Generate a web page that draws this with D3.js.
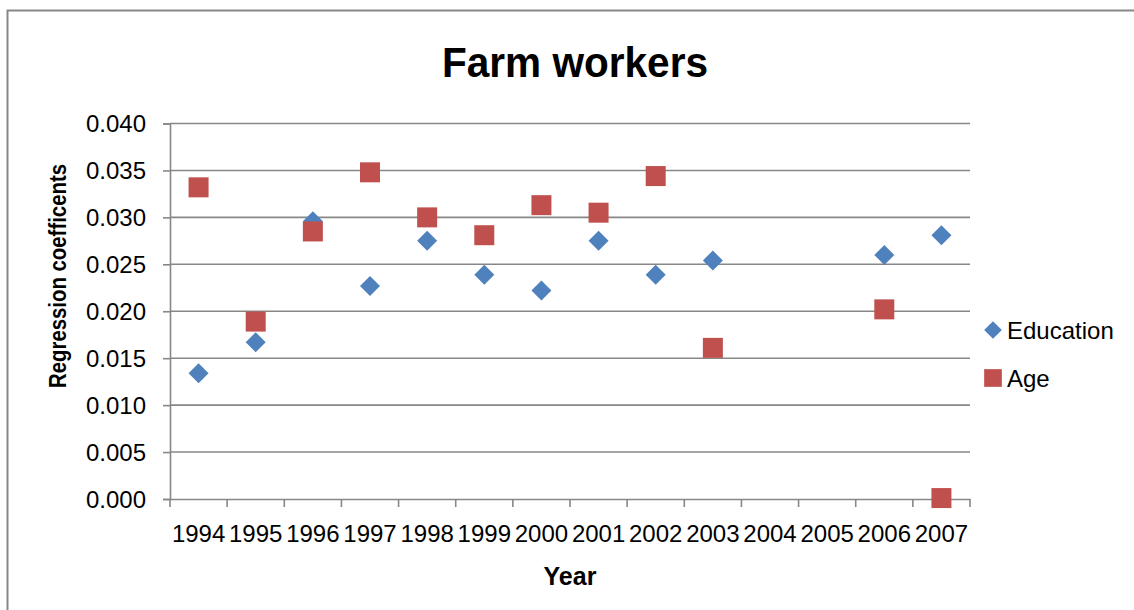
<!DOCTYPE html>
<html>
<head>
<meta charset="utf-8">
<script src="https://cdn.jsdelivr.net/npm/d3@7"></script>
<style>
  html, body { margin: 0; padding: 0; background: #fff; }
  svg { display: block; }
  text { font-family: "Liberation Sans", Arial, sans-serif; fill: #000; }
</style>
</head>
<body>
<div id="chart"></div>
<script>
// Categories along the x axis (years; 2004 and 2005 have no estimates)
const years = ["1994","1995","1996","1997","1998","1999","2000","2001","2002","2003","2004","2005","2006","2007"];

// Regression coefficients per year (null = no estimate)
const education = [0.0134, 0.0167, 0.0296, 0.0227, 0.0275, 0.0239, 0.0222, 0.0275, 0.0239, 0.0254, null, null, 0.0260, 0.0281];
const age       = [0.0332, 0.0189, 0.0285, 0.0348, 0.0300, 0.0281, 0.0313, 0.0305, 0.0344, 0.0161, null, null, 0.0202, 0.0001];

// Y axis tick values and labels
const yTicks = [0, 0.005, 0.010, 0.015, 0.020, 0.025, 0.030, 0.035, 0.040];

const seriesNames = ["Education", "Age"];
const seriesColors = ["#4F81BD", "#C0504D"];

const W = 1134, H = 610;
const plot = { left: 170, right: 970, top: 123.5, bottom: 499 };
const gridColor = "#878787";
const labelFont = "Liberation Sans, Arial, sans-serif";

const svg = d3.select("#chart").append("svg")
  .attr("width", W).attr("height", H);

// Chart frame
svg.append("rect")
  .attr("x", 7.5).attr("y", 10.5)
  .attr("width", W + 10).attr("height", H + 10)
  .attr("fill", "#fff").attr("stroke", gridColor).attr("stroke-width", 2);

const x = d3.scaleBand().domain(years).range([plot.left, plot.right]).padding(0);
const y = d3.scaleLinear().domain([0, 0.04]).range([plot.bottom, plot.top]);

// Horizontal gridlines
svg.append("g")
  .selectAll("line")
  .data(yTicks.filter(d => d > 0))
  .join("line")
  .attr("x1", plot.left).attr("x2", plot.right)
  .attr("y1", d => y(d)).attr("y2", d => y(d))
  .attr("stroke", gridColor).attr("stroke-width", 1.6);

// Y axis
const yAxis = svg.append("g")
  .attr("transform", `translate(${plot.left},0)`)
  .call(d3.axisLeft(y).tickValues(yTicks).tickFormat(d3.format(".3f")).tickSize(7).tickPadding(17));
yAxis.select(".domain").attr("stroke", gridColor).attr("stroke-width", 1.6);
yAxis.selectAll(".tick line").attr("stroke", gridColor).attr("stroke-width", 1.6);
yAxis.selectAll(".tick text")
  .attr("font-size", 24).attr("font-family", labelFont)
  .attr("fill", "#000").attr("dy", "0.35em");

// X axis with ticks at category boundaries
const xAxis = svg.append("g")
  .attr("transform", `translate(0,${plot.bottom})`)
  .call(d3.axisBottom(x).tickSize(0).tickPadding(34));
xAxis.select(".domain").attr("stroke", gridColor).attr("stroke-width", 1.6);
xAxis.selectAll(".tick text")
  .attr("font-size", 24).attr("font-family", labelFont)
  .attr("fill", "#000").attr("dy", "0.36em");
xAxis.append("g")
  .selectAll("line")
  .data(years.map(d => x(d)).concat([x(years[years.length - 1]) + x.bandwidth()]))
  .join("line")
  .attr("x1", d => d).attr("x2", d => d)
  .attr("y1", 0).attr("y2", 8)
  .attr("stroke", gridColor).attr("stroke-width", 1.6);

// Markers
const diamond = d3.symbol().type(d3.symbolSquare).size(200);
const square = d3.symbol().type(d3.symbolSquare).size(400);

function drawSeries(values, color, shape, rotate) {
  svg.append("g")
    .selectAll("path")
    .data(years.map((yr, i) => ({ yr, v: values[i] })).filter(d => d.v !== null))
    .join("path")
    .attr("d", shape)
    .attr("transform", d => `translate(${x(d.yr) + x.bandwidth() / 2},${y(d.v)}) rotate(${rotate})`)
    .attr("fill", color);
}
drawSeries(education, seriesColors[0], diamond, 45);
drawSeries(age, seriesColors[1], square, 0);

// Title
svg.append("text")
  .attr("x", 575).attr("y", 77)
  .attr("text-anchor", "middle")
  .attr("font-size", 42).attr("font-weight", "bold")
  .attr("textLength", 266).attr("lengthAdjust", "spacingAndGlyphs")
  .text("Farm workers");

// Y axis title
svg.append("text")
  .attr("transform", "translate(66,276) rotate(-90)")
  .attr("text-anchor", "middle")
  .attr("font-size", 23).attr("font-weight", "bold")
  .attr("textLength", 224).attr("lengthAdjust", "spacingAndGlyphs")
  .text("Regression coefficents");

// X axis title
svg.append("text")
  .attr("x", 570).attr("y", 585)
  .attr("text-anchor", "middle")
  .attr("font-size", 25).attr("font-weight", "bold")
  .text("Year");

// Legend
const legend = svg.append("g");
const legendShapes = [
  { path: d3.symbol().type(d3.symbolSquare).size(156)(), rot: 45 },
  { path: d3.symbol().type(d3.symbolSquare).size(313)(), rot: 0 }
];
seriesNames.forEach((name, i) => {
  const cy = 330 + i * 48;
  legend.append("path")
    .attr("d", legendShapes[i].path)
    .attr("transform", `translate(993,${cy}) rotate(${legendShapes[i].rot})`)
    .attr("fill", seriesColors[i]);
  legend.append("text")
    .attr("x", 1007).attr("y", cy + 8.5)
    .attr("font-size", 24)
    .text(name);
});
</script>
</body>
</html>
